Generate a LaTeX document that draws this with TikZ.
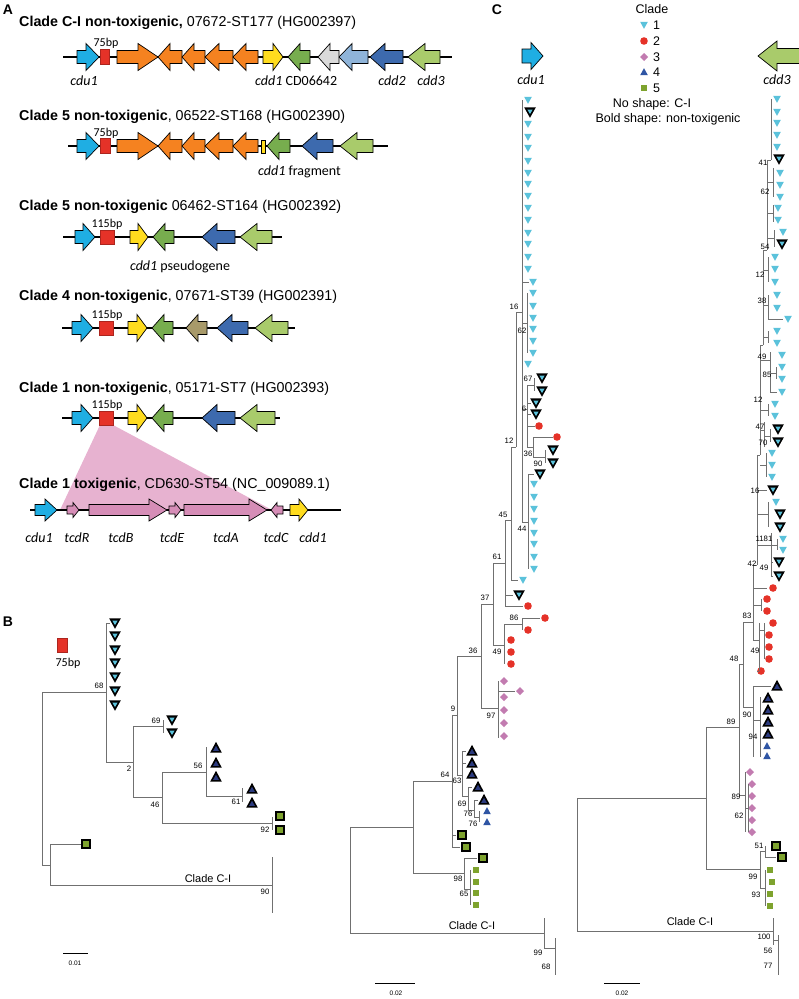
\documentclass[tikz,border=0pt]{standalone}
\usepackage{fontspec}
\setmainfont{Liberation Sans}
\newfontfamily\calib{Carlito}
\definecolor{gcyan}{HTML}{1FAEE3}
\definecolor{gred}{HTML}{E53228}
\definecolor{gorange}{HTML}{F58220}
\definecolor{gyellow}{HTML}{FFDC1E}
\definecolor{ggreen}{HTML}{77AD4E}
\definecolor{ggray}{HTML}{DADADA}
\definecolor{glblue}{HTML}{8FB4D9}
\definecolor{gdblue}{HTML}{3D6AAE}
\definecolor{glgreen}{HTML}{A9CB6B}
\definecolor{gbrown}{HTML}{A89A6A}
\definecolor{gpink}{HTML}{D68DB7}
\definecolor{tpink}{HTML}{E7B2D0}
\definecolor{lcyan}{HTML}{5BC2DB}
\definecolor{lred}{HTML}{E53228}
\definecolor{lpink}{HTML}{C27BB0}
\definecolor{lblue}{HTML}{2F55A4}
\definecolor{lnavy}{HTML}{2B3A7E}
\definecolor{lgreen}{HTML}{7EA32E}
\definecolor{tline}{HTML}{707070}
\tikzset{
  gene/.style={draw=black, line width=0.7pt, line join=miter},
  bb/.style={draw=black, line width=1.6pt},
  rbox/.style={draw=gred!75!black, line width=0.4pt, fill=gred},
  tl/.style={draw=tline, line width=0.7pt},
  ttl/.style={anchor=west, font=\fontsize{14.3}{16}\selectfont, inner sep=0pt},
  glab/.style={font=\calib\fontsize{14}{16}\selectfont, inner sep=0pt},
  bpl/.style={font=\calib\fontsize{12}{14}\selectfont, inner sep=0pt},
  bsn/.style={font=\fontsize{7.8}{8}\selectfont, inner sep=0pt},
  panel/.style={font=\bfseries\fontsize{14}{16}\selectfont, inner sep=0pt},
  leg/.style={font=\fontsize{12.5}{14}\selectfont, inner sep=0pt},
  cil/.style={font=\fontsize{11}{13}\selectfont, inner sep=0pt},
  scl/.style={font=\fontsize{6.5}{7}\selectfont, inner sep=0pt}
}
\newcommand\setg[2]{\def\gbody{#1}\def\ghead{#2}}
% right-pointing gene: x1 x2 y head colour
\newcommand\gR[5]{\draw[gene,fill=#5] (#1,#3-\gbody) -- (#2-#4,#3-\gbody) -- (#2-#4,#3-\ghead) -- (#2,#3) -- (#2-#4,#3+\ghead) -- (#2-#4,#3+\gbody) -- (#1,#3+\gbody) -- cycle;}
% left-pointing gene: tip x, tail x, y, head, colour
\newcommand\gL[5]{\draw[gene,fill=#5] (#2,#3-\gbody) -- (#1+#4,#3-\gbody) -- (#1+#4,#3-\ghead) -- (#1,#3) -- (#1+#4,#3+\ghead) -- (#1+#4,#3+\gbody) -- (#2,#3+\gbody) -- cycle;}
% tree leaf symbols
\newcommand\Ta[2]{\fill[lcyan] (#1-3.8,#2-3.1) -- (#1+3.8,#2-3.1) -- (#1,#2+3.8) -- cycle;}
\newcommand\Tb[2]{\fill[black] (#1-5.8,#2-4.6) -- (#1+5.8,#2-4.6) -- (#1,#2+5.8) -- cycle; \fill[lcyan] (#1-2.6,#2-2.4) -- (#1+2.6,#2-2.4) -- (#1,#2+2.1) -- cycle;}
\newcommand\Rc[2]{\fill[lred] (#1,#2) circle[radius=3.8pt];}
\newcommand\Dm[2]{\fill[lpink] (#1-4,#2) -- (#1,#2-4) -- (#1+4,#2) -- (#1,#2+4) -- cycle;}
\newcommand\Ua[2]{\fill[lblue] (#1-3.8,#2+3.1) -- (#1+3.8,#2+3.1) -- (#1,#2-3.8) -- cycle;}
\newcommand\Ub[2]{\fill[black] (#1-5.8,#2+4.6) -- (#1+5.8,#2+4.6) -- (#1,#2-6.2) -- cycle; \fill[lnavy] (#1-2.9,#2+2.8) -- (#1+2.9,#2+2.8) -- (#1,#2-2.2) -- cycle;}
\newcommand\Sa[2]{\fill[lgreen] (#1-3.4,#2-3.4) rectangle (#1+3.4,#2+3.4);}
\newcommand\Sb[2]{\fill[black] (#1-5,#2-5) rectangle (#1+5,#2+5); \fill[lgreen] (#1-2.6,#2-2.6) rectangle (#1+2.6,#2+2.6);}
% tree lines
\newcommand\trV[3]{\draw[tl] (#1,#2) -- (#1,#3);}
\newcommand\trH[3]{\draw[tl] (#2,#1) -- (#3,#1);}
\newcounter{bsc}
\newcommand\bsl[3]{\stepcounter{bsc}\node[bsn] (bs\arabic{bsc}) at (#1,#2) {#3};}
\begin{document}
\begin{tikzpicture}[x=1pt,y=-1pt]
\useasboundingbox (0,0) rectangle (799,999);
\fill[white] (0,0) rectangle (799,999);
\begin{scope}
\clip (0,0) rectangle (799,999);

% ================= PANEL A =================
\node[panel] (pA) at (8,10) {A};
% row 1
\node[ttl] (t1) at (19,23) {\textbf{Clade C-I non-toxigenic,} 07672-ST177 (HG002397)};
\setg{6.5}{13.5}
\draw[bb] (63,57) -- (452,57);
\gR{77}{99}{57}{13}{gcyan}
\draw[rbox] (100,49) rectangle (109,64);
\gR{117}{158}{57}{20}{gorange}
\gL{158}{182}{57}{12}{gorange}
\gL{182}{205}{57}{12}{gorange}
\gL{205}{233}{57}{14}{gorange}
\gL{233}{258}{57}{13}{gorange}
\gR{263}{283}{57}{10}{gyellow}
\gL{288}{310}{57}{12}{ggreen}
\gL{318}{339}{57}{12}{ggray}
\gL{339}{368}{57}{13}{glblue}
\gL{370}{403}{57}{15}{gdblue}
\gL{408}{440}{57}{17}{glgreen}
\node[bpl] (bp1) at (106,43) {75bp};
\node[glab] (l1a) at (84,81) {\itshape cdu1};
\node[glab,anchor=west] (l1b) at (255,81) {\itshape cdd1\upshape\ CD06642};
\node[glab] (l1c) at (392,81) {\itshape cdd2};
\node[glab] (l1d) at (431,81) {\itshape cdd3};
% row 2
\node[ttl] (t2) at (19,117) {\textbf{Clade 5 non-toxigenic}, 06522-ST168 (HG002390)};
\draw[bb] (68,146) -- (388,146);
\gR{77}{99}{146}{13}{gcyan}
\draw[rbox] (100,138) rectangle (110,153);
\gR{117}{158}{146}{20}{gorange}
\gL{158}{182}{146}{12}{gorange}
\gL{182}{205}{146}{12}{gorange}
\gL{205}{233}{146}{14}{gorange}
\gL{233}{258}{146}{13}{gorange}
\draw[gene,fill=gyellow,line width=0.4pt] (261.5,140) rectangle (265,153);
\gL{267}{290}{146}{12}{ggreen}
\gL{302}{333}{146}{15}{gdblue}
\gL{340}{373}{146}{17}{glgreen}
\node[bpl] (bp2) at (106,133) {75bp};
\node[glab,anchor=west] (l2a) at (258,172) {\itshape cdd1\upshape\ fragment};
% row 3
\node[ttl] (t3) at (19,207) {\textbf{Clade 5 non-toxigenic} 06462-ST164 (HG002392)};
\draw[bb] (63,237) -- (282,237);
\gR{75}{95}{237}{12}{gcyan}
\draw[rbox] (100,230) rectangle (114,244);
\gR{130}{148}{237}{10}{gyellow}
\gL{153}{174}{237}{12}{ggreen}
\gL{202}{235}{237}{15}{gdblue}
\gL{240}{272}{237}{17}{glgreen}
\node[bpl] (bp3) at (107,224) {115bp};
\node[glab] (l3a) at (180,267) {\itshape cdd1\upshape\ pseudogene};
% row 4
\node[ttl] (t4) at (19,297) {\textbf{Clade 4 non-toxigenic}, 07671-ST39 (HG002391)};
\draw[bb] (62,328) -- (295,328);
\gR{72}{93}{328}{12}{gcyan}
\draw[rbox] (99,321) rectangle (113,335);
\gR{128}{147}{328}{10}{gyellow}
\gL{152}{173}{328}{12}{ggreen}
\gL{186}{207}{328}{12}{gbrown}
\gL{217}{248}{328}{15}{gdblue}
\gL{255}{288}{328}{17}{glgreen}
\node[bpl] (bp4) at (107,315) {115bp};
% row 5
\node[ttl] (t5) at (19,389) {\textbf{Clade 1 non-toxigenic}, 05171-ST7 (HG002393)};
\fill[tpink] (100,425) -- (113,425) -- (272,510) -- (60,510) -- cycle;
\draw[bb] (62,418) -- (280,418);
\gR{72}{93}{418}{12}{gcyan}
\draw[rbox] (99,411) rectangle (113,425);
\gR{128}{147}{418}{10}{gyellow}
\gL{152}{173}{418}{12}{ggreen}
\gL{202}{235}{418}{15}{gdblue}
\gL{240}{275}{418}{17}{glgreen}
\node[bpl] (bp5) at (107,405) {115bp};
% row 6
\node[ttl] (t6) at (19,485) {\textbf{Clade 1 toxigenic}, CD630-ST54 (NC\_009089.1)};
\draw[bb] (30,510) -- (341,510);
\setg{5.5}{11}
\gR{35}{57}{510}{12}{gcyan}
\gR{89}{167}{510}{18}{gpink}
\gR{184}{267}{510}{18}{gpink}
\gR{290}{308}{510}{9}{gyellow}
\setg{4}{7.5}
\gR{67}{79}{510}{6}{gpink}
\gR{169}{181}{510}{6}{gpink}
\gL{271}{283}{510}{6}{gpink}
\node[glab] (l6a) at (39,538) {\itshape cdu1};
\node[glab] (l6b) at (77,538) {\itshape tcdR};
\node[glab] (l6c) at (121,538) {\itshape tcdB};
\node[glab] (l6d) at (172,538) {\itshape tcdE};
\node[glab] (l6e) at (226,538) {\itshape tcdA};
\node[glab] (l6f) at (276,538) {\itshape tcdC};
\node[glab] (l6g) at (313,538) {\itshape cdd1};

% ================= PANEL B =================
\node[panel] (pB) at (8,622) {B};
\draw[rbox] (57,638) rectangle (67,652);
\node[bpl] (bpB) at (68,663) {75bp};
\trV{42}{692}{865}
\trH{692}{42}{106}
\trV{106}{623}{762}
\trH{623}{106}{110}
\foreach \yy in {623,636,650,663,677,691,705} {\Tb{115}{\yy}}
\trH{762}{106}{133}
\trV{133}{726}{797}
\trH{726}{133}{163}
\trV{163}{720}{733}
\Tb{172}{720} \Tb{172}{733}
\trH{797}{133}{162}
\trV{162}{772}{823}
\trH{772}{162}{206}
\trV{206}{747}{796}
\Ub{216}{748} \Ub{216}{763} \Ub{216}{777}
\trH{796}{206}{242}
\trV{242}{788}{802}
\Ub{252}{789} \Ub{252}{803}
\trH{823}{162}{272}
\trV{272}{817}{830}
\Sb{280}{816} \Sb{280}{830}
\trH{865}{42}{50}
\trV{50}{844}{885}
\trH{844}{50}{81}
\Sb{86}{844}
\trH{885}{50}{272}
\trV{272}{857}{913}
\node[cil] (ciB) at (208,879) {Clade C-I};
\bsl{99}{686}{68}
\bsl{156}{721}{69}
\bsl{129}{769}{2}
\bsl{155}{805}{46}
\bsl{198}{766}{56}
\bsl{236}{802}{61}
\bsl{265}{830}{92}
\bsl{265}{892}{90}
\draw[black,line width=0.5pt] (63,953) -- (88,953);
\node[scl] (scB) at (75,963) {0.01};

% ================= PANEL C =================
\node[panel] (pC) at (497,10) {C};
\setg{7}{13.5}
\gR{522}{543}{56}{12}{gcyan}
\node[glab] (lc1) at (531,80) {\itshape cdu1};
\setg{7.5}{15}
\gL{758}{806}{56}{19}{glgreen}
\node[glab] (lc2) at (777,80) {\itshape cdd3};
% legend
\node[leg] (lg0) at (652,9) {Clade};
\Ta{644}{25} \Rc{644}{41} \Dm{644}{57} \Ua{644}{72} \Sa{644}{88}
\node[leg,anchor=west] (lg1) at (653,25) {1};
\node[leg,anchor=west] (lg2) at (653,41) {2};
\node[leg,anchor=west] (lg3) at (653,57) {3};
\node[leg,anchor=west] (lg4) at (653,72) {4};
\node[leg,anchor=west] (lg5) at (653,88) {5};
\node[leg] (lg6) at (652,104) {No shape: C-I};
\node[leg] (lg7) at (668,119) {Bold shape: non-toxigenic};

% ---- left tree (cdu1) ----
\trV{522}{100}{522}
\Ta{528}{100} \Tb{530}{112}
\foreach \yy in {124,137,148,161,173,184,196,208,220,233,244,257,269,364} {\Ta{528}{\yy}}
\trH{282}{522}{529} \Ta{533}{282}
\trV{527}{293}{353} \trH{323}{522}{527}
\foreach \yy in {293,306,318,329,341,353} {\Ta{533}{\yy}}
\trV{516}{312}{447} \trH{312}{516}{522}
\trV{527}{385}{447} \trH{409}{522}{527}
\trV{534}{378}{391} \trH{385}{527}{534}
\Tb{542}{378} \Tb{542}{391}
\trH{403}{527}{531} \trH{414}{527}{531}
\Tb{536}{403} \Tb{536}{414}
\trH{426}{527}{535} \Rc{539}{426}
\trV{533}{437}{457} \trH{447}{527}{533}
\trH{437}{533}{553} \Rc{557}{437}
\trV{545}{450}{463} \trH{457}{533}{545}
\Tb{553}{450} \Tb{553}{463}
\trV{528}{474}{569} \trH{522}{522}{528}
\trH{474}{528}{534} \Tb{540}{474}
\foreach \yy in {484,497,509,521,533,544,557,569} {\Ta{534}{\yy}}
\trV{511}{447}{580} \trH{447}{511}{516}
\trH{580}{511}{518} \Ta{523}{580}
\trV{505}{520}{606} \trH{520}{505}{511}
\trH{595}{505}{513} \Tb{519}{595}
\trH{606}{505}{523} \Rc{528}{606}
\trV{493}{563}{645} \trH{563}{493}{505}
\trV{504}{624}{664} \trH{645}{493}{504}
\trV{522}{618}{630} \trH{624}{504}{522}
\trH{618}{522}{540} \Rc{545}{618}
\Rc{528}{630}
\Rc{511}{640} \Rc{511}{652} \Rc{511}{664}
\trV{481}{604}{708} \trH{604}{481}{493}
\trV{498}{681}{738} \trH{708}{481}{498}
\foreach \yy in {681,697,710,723,736} {\Dm{504}{\yy}}
\trH{691}{498}{515} \Dm{520}{691}
\trV{457}{656}{775} \trH{656}{457}{481}
\trV{452}{715}{847} \trH{715}{452}{457}
\trV{462}{751}{796} \trH{775}{457}{462}
\trH{751}{462}{466} \trH{763}{462}{466}
\Ub{472}{751} \Ub{472}{763} \Ub{472}{774}
\trV{468}{787}{810} \trH{796}{462}{468}
\trH{787}{468}{472} \Ub{478}{787}
\trV{474}{800}{817} \trH{810}{468}{474}
\trH{800}{474}{478} \Ub{484}{800}
\trV{479}{811}{822} \trH{817}{474}{479}
\Ua{487}{811} \Ua{487}{822}
\trH{835}{452}{456} \trH{847}{452}{460}
\Sb{462}{835} \Sb{466}{847}
\trV{413}{781}{873} \trH{781}{413}{452}
\trV{464}{858}{889} \trH{873}{413}{464}
\trH{858}{464}{477} \Sb{483}{858}
\trV{470}{870}{905} \trH{889}{464}{470}
\foreach \yy in {870,882,893,905} {\Sa{476}{\yy}}
\trV{350}{827}{933} \trH{827}{350}{413}
\trH{933}{350}{544}
\trV{544}{918}{948} \trH{948}{544}{555}
\trV{555}{938}{975}
\node[cil] (ciL) at (472,926) {Clade C-I};
\bsl{514}{307}{16}
\bsl{522}{331}{62}
\bsl{528}{379}{67}
\bsl{524}{409}{6}
\bsl{509}{441}{12}
\bsl{528}{454}{36}
\bsl{538}{464}{90}
\bsl{522}{529}{44}
\bsl{503}{515}{45}
\bsl{497}{557}{61}
\bsl{485}{598}{37}
\bsl{514}{618}{86}
\bsl{497}{652}{49}
\bsl{473}{651}{36}
\bsl{491}{716}{97}
\bsl{453}{709}{9}
\bsl{445}{775}{64}
\bsl{457}{781}{63}
\bsl{462}{804}{69}
\bsl{468}{814}{76}
\bsl{473}{824}{76}
\bsl{458}{879}{98}
\bsl{464}{894}{65}
\bsl{538}{953}{99}
\bsl{546}{967}{68}
\draw[black,line width=0.5pt] (375,983) -- (415,983);
\node[scl] (scL) at (396,993) {0.02};

% ---- right tree (cdd3) ----
\foreach \yy in {99,112,123,135,147} {\Ta{777}{\yy}}
\Tb{779}{159}
\foreach \yy in {173,185,197} {\Ta{780}{\yy}}
\Ta{778}{208} \Ta{778}{220} \Ta{783}{232} \Tb{782}{244}
\foreach \yy in {257,269,282} {\Ta{775}{\yy}}
\Ta{777}{295} \Ta{777}{308} \Ta{788}{319} \Ta{777}{331} \Ta{777}{343}
\foreach \yy in {355,367,379,392} {\Ta{782}{\yy}}
\Ta{775}{404} \Ta{775}{416} \Tb{778}{429} \Tb{778}{442}
\foreach \yy in {453,465,477} {\Ta{772}{\yy}}
\Tb{773}{490} \Ta{776}{502} \Tb{780}{514} \Tb{780}{527}
\Ta{783}{539} \Ta{783}{550} \Tb{779}{562} \Tb{779}{576}
\Rc{773}{588} \Rc{767}{599} \Rc{767}{611} \Rc{773}{623}
\Rc{769}{635} \Rc{769}{647} \Rc{769}{659} \Rc{761}{671}
\Ub{777}{686}
\foreach \yy in {698,710,722,734} {\Ub{768}{\yy}}
\Ua{767}{746} \Ua{767}{756}
\Dm{750}{772}
\foreach \yy in {784,796,808,820,832} {\Dm{752}{\yy}}
\Sb{776}{846} \Sb{782}{857}
\Sa{770}{870} \Sa{772}{882} \Sa{770}{894} \Sa{770}{906}
\trV{771}{99}{160}
\trV{767}{160}{250} \trH{160}{767}{771}
\trV{773}{168}{197} \trH{182}{767}{773}
\trV{773}{205}{222} \trH{213}{767}{773}
\trV{774}{230}{247} \trH{238}{767}{774}
\trV{763}{250}{345} \trH{250}{763}{767}
\trV{768}{257}{282} \trH{270}{763}{768}
\trV{768}{295}{319} \trH{305}{763}{768} \trH{319}{768}{783}
\trV{768}{331}{343} \trH{337}{763}{768}
\trV{760}{345}{455} \trH{345}{760}{763}
\trV{770}{352}{392} \trH{360}{760}{770}
\trV{776}{367}{379} \trH{373}{770}{776} \trH{392}{770}{777}
\trV{768}{404}{416} \trH{410}{760}{768}
\trV{764}{422}{447} \trH{430}{760}{764}
\trV{770}{429}{442} \trH{436}{764}{770}
\trV{766}{453}{477} \trH{465}{760}{766}
\trV{757}{455}{565} \trH{455}{757}{760}
\trH{490}{757}{767}
\trV{768}{502}{527} \trH{514}{757}{768}
\trV{771}{533}{576} \trH{545}{757}{777}
\trV{777}{539}{550}
\trH{562}{771}{773} \trH{576}{771}{773}
\trV{753}{565}{640} \trH{565}{753}{757}
\trH{588}{753}{767}
\trV{761}{599}{611} \trH{605}{753}{761}
\trV{759}{623}{671} \trH{640}{753}{759}
\trV{764}{623}{659} \trH{630}{759}{764}
\trH{671}{759}{757}
\trV{743}{622}{707} \trH{622}{743}{753}
\trH{664}{739}{743}
\trV{739}{664}{795}
\trH{707}{743}{753}
\trV{753}{686}{757} \trH{686}{753}{771}
\trV{760}{697}{757} \trH{720}{753}{760}
\trH{727}{706}{739}
\trV{745}{772}{832} \trH{795}{739}{745}
\trV{748}{784}{832} \trH{808}{745}{748}
\trV{706}{727}{869} \trH{798}{577}{706}
\trV{760}{851}{888} \trH{869}{706}{760}
\trV{765}{846}{857} \trH{851}{760}{765} \trH{857}{765}{776}
\trV{765}{870}{906} \trH{888}{760}{765}
\trV{577}{798}{931}
\trH{931}{577}{773}
\trV{773}{918}{945} \trH{940}{773}{778}
\trV{778}{935}{975}
\node[cil] (ciR) at (690,922) {Clade C-I};
\bsl{763}{163}{41}
\bsl{765}{192}{62}
\bsl{765}{247}{54}
\bsl{760}{275}{12}
\bsl{762}{301}{38}
\bsl{762}{357}{49}
\bsl{767}{375}{85}
\bsl{758}{400}{12}
\bsl{760}{427}{47}
\bsl{763}{443}{70}
\bsl{755}{491}{16}
\bsl{764}{539}{1181}
\bsl{752}{564}{42}
\bsl{764}{568}{49}
\bsl{747}{616}{83}
\bsl{755}{651}{49}
\bsl{734}{659}{48}
\bsl{747}{715}{90}
\bsl{731}{722}{89}
\bsl{753}{737}{94}
\bsl{736}{797}{89}
\bsl{739}{816}{62}
\bsl{759}{846}{51}
\bsl{753}{877}{99}
\bsl{756}{895}{93}
\bsl{764}{937}{100}
\bsl{768}{951}{56}
\bsl{768}{966}{77}
\draw[black,line width=0.5pt] (604,983) -- (640,983);
\node[scl] (scR) at (622,993) {0.02};
\end{scope}
\end{tikzpicture}
\end{document}
